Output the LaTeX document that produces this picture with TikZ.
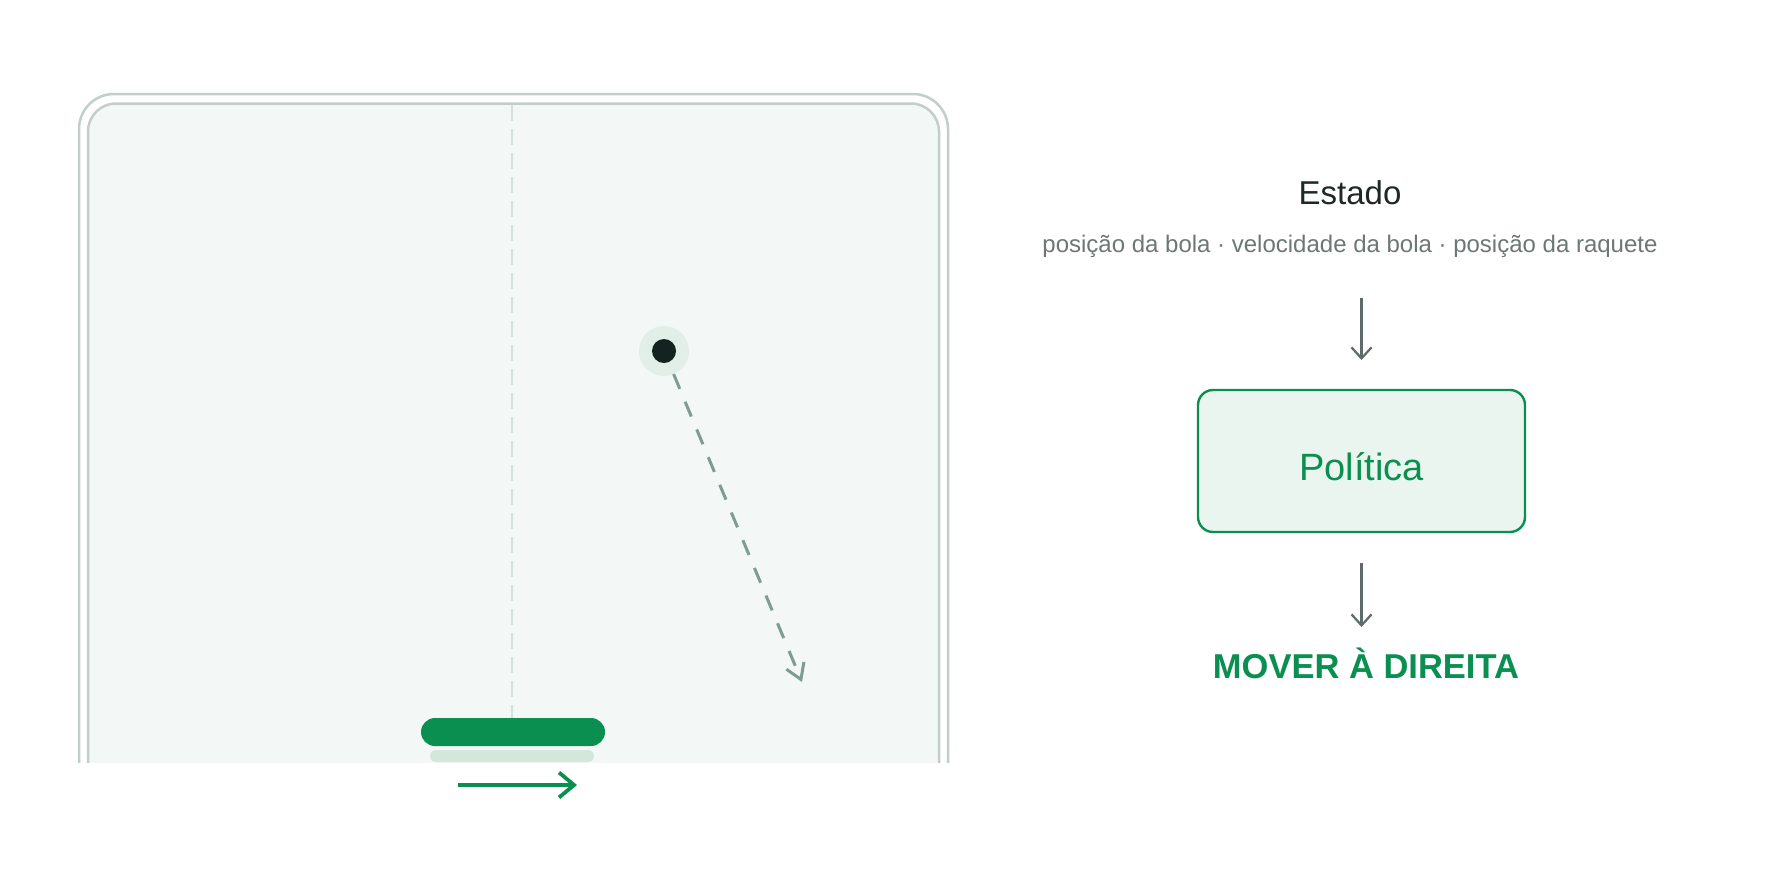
\documentclass[tikz,border=0pt]{standalone}
\usepackage{fontspec}
\setmainfont{Liberation Sans}
\usetikzlibrary{positioning, arrows.meta}

\definecolor{pgreen}{HTML}{0A8F50}
\definecolor{framegray}{HTML}{C2CFC9}
\definecolor{fieldfill}{HTML}{F3F7F5}
\definecolor{midcol}{HTML}{D3E3DA}
\definecolor{trajcol}{HTML}{7F9C90}
\definecolor{halocol}{HTML}{E2EEE8}
\definecolor{balldark}{HTML}{142220}
\definecolor{shadowcol}{HTML}{D3E8DB}
\definecolor{titlecol}{HTML}{1E2826}
\definecolor{subcol}{HTML}{6B7875}
\definecolor{arrowcol}{HTML}{5E6B6A}
\definecolor{boxfill}{HTML}{EAF5EF}

\begin{document}
\begin{tikzpicture}[x=1pt, y=-1pt,
    flow/.style={draw=arrowcol, line width=2.2pt, -{Straight Barb[length=11pt,width=20pt]}},
    traj/.style={draw=trajcol, line width=3pt, dash pattern=on 16pt off 14pt, -{Straight Barb[length=15pt,width=19pt]}},
    move/.style={draw=pgreen, line width=3.8pt, -{Straight Barb[length=15pt,width=25pt]}},
    midline/.style={draw=midcol, line width=2pt, dash pattern=on 16pt off 8pt},
    paddle/.style={rectangle, fill=pgreen, minimum width=184pt, minimum height=28pt, rounded corners=14pt, inner sep=0pt},
    shadowbar/.style={rectangle, fill=shadowcol, minimum width=164pt, minimum height=12pt, rounded corners=6pt, inner sep=0pt},
    halo/.style={circle, fill=halocol, minimum size=50pt, inner sep=0pt, outer sep=0pt},
    ball/.style={circle, fill=balldark, minimum size=24pt, inner sep=0pt},
    title/.style={text=titlecol, inner sep=0pt, font=\fontsize{33}{40}\selectfont},
    subtitle/.style={text=subcol, inner sep=0pt, font=\fontsize{24}{29}\selectfont},
    policy/.style={rectangle, draw=pgreen, line width=2.4pt, fill=boxfill, rounded corners=15pt, minimum width=327pt, minimum height=142pt, inner sep=0pt, outer sep=0pt, text=pgreen, font=\fontsize{38}{44}\selectfont},
    action/.style={text=pgreen, inner sep=0pt, font=\bfseries\fontsize{34.5}{40}\selectfont}]

    % Canvas
    \fill[white] (0,0) rectangle (1774,887);
    \useasboundingbox (0,0) rectangle (1774,887);

    % Game field, cut at the bottom
    \begin{scope}
        \clip (0,0) rectangle (1774,762);
        \draw[line width=2.5pt, draw=framegray, rounded corners=35pt] (79,94) rectangle (948,900);
        \draw[line width=2.5pt, draw=framegray, fill=fieldfill, rounded corners=28pt] (88,103.5) rectangle (939,900);
        \draw[midline] (512,105) -- (512,762);
    \end{scope}

    % Paddle and ball
    \node[shadowbar] (shadow) at (512,756) {};
    \node[paddle] (paddle) at (513,732) {};
    \node[halo] (halo) at (664,351) {};
    \node[ball] (ball) at (halo) {};
    \coordinate (tip) at (802,682);

    % Motion arrows
    \draw[traj] (halo) -- (tip);
    \draw[move] ([xshift=-55pt,yshift=-53pt]paddle.center) -- ++(119,0);

    % State, policy, action
    \node[title, anchor=base] (estado) at (1350,204) {Estado};
    \node[subtitle, anchor=base] (sub) at (1350,252) {posição da bola · velocidade da bola · posição da raquete};
    \node[policy] (politica) at (1361.5,461) {\raisebox{-6pt}[\height][\depth]{Política}};
    \node[action, anchor=base] (acao) at (1366,678) {MOVER À DIREITA};

    % Draw edges with arrows
    \coordinate (a1) at (sub.south -| politica.north);
    \draw[flow] ([yshift=-41pt]a1) -- ([yshift=30pt]politica.north);
    \draw[flow] ([yshift=-31pt]politica.south) -- ([yshift=-95pt]politica.south);

\end{tikzpicture}
\end{document}
